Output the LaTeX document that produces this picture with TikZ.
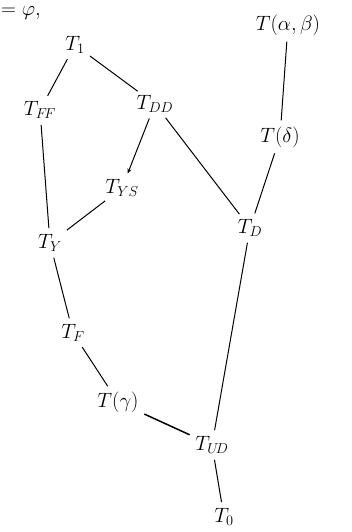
\documentclass[tikz,border=0pt]{standalone}
\usetikzlibrary{arrows.meta}
\begin{document}
\begin{tikzpicture}[x=1pt,y=-1pt,
  lbl/.style={inner sep=1pt,font=\fontsize{22}{24}\selectfont},
  edge/.style={line width=1pt,shorten >=5pt,shorten <=5pt}]
\useasboundingbox (0,0) rectangle (352,532);
\node[lbl,anchor=west] (phi) at (0,13) {$=\varphi,$};
\node[lbl] (T1) at (75,45) {$T_1$};
\node[lbl] (TFF) at (40,110) {$T_{F\!F}$};
\node[lbl] (TDD) at (155,104) {$T_{DD}$};
\node[lbl] (Tab) at (288,25) {$T(\alpha,\beta)$};
\node[lbl] (Td) at (280,137) {$T(\delta)$};
\node[lbl] (TYS) at (122,188) {$T_{YS}$};
\node[lbl] (TD) at (250,228) {$T_D$};
\node[lbl] (TY) at (50,243) {$T_Y$};
\node[lbl] (TF) at (73,333) {$T_F$};
\node[lbl] (Tg) at (118,402) {$T(\gamma)$};
\node[lbl] (TUD) at (212,445) {$T_{U\!D}$};
\node[lbl] (T0) at (224,517) {$T_0$};
\draw[edge] (T1) -- (TFF);
\draw[edge] (T1) -- (TDD);
\draw[edge] (TFF) -- (TY);
\draw[edge,-{Stealth[length=5pt,width=4pt]}] (TDD) -- (TYS);
\draw[edge] (TDD) -- (TD);
\draw[edge] (TYS) -- (TY);
\draw[edge] (TY) -- (TF);
\draw[edge] (TF) -- (Tg);
\draw[edge,line width=1.5pt] (Tg) -- (TUD);
\draw[edge] (TUD) -- (TD);
\draw[edge] (TUD) -- (T0);
\draw[edge] (Tab) -- (Td);
\draw[edge] (Td) -- (TD);
\end{tikzpicture}
\end{document}
